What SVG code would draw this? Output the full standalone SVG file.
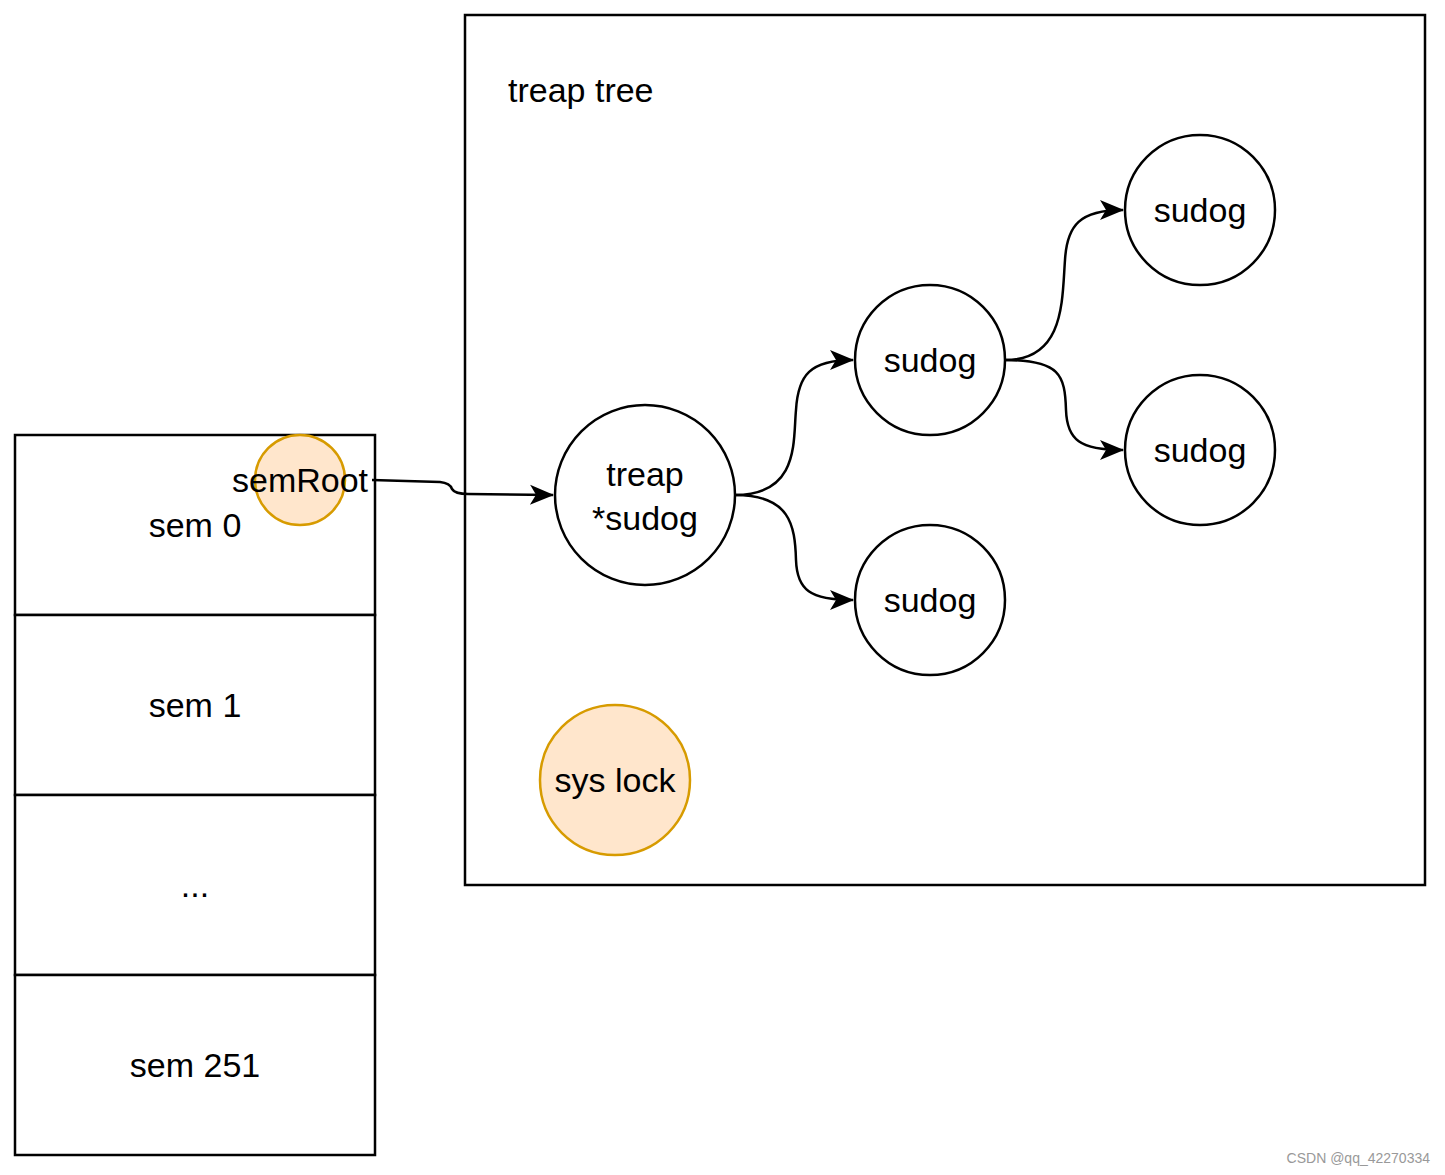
<svg xmlns="http://www.w3.org/2000/svg" width="1445" height="1175" viewBox="0 0 1445 1175">
<style>
text{font-family:"Liberation Sans",Arial,sans-serif;font-size:34px;fill:#000;text-anchor:middle;dominant-baseline:central}
.box{fill:#fff;stroke:#000;stroke-width:2.5}
.node{fill:#fff;stroke:#000;stroke-width:2.5}
.orange{fill:#ffe6cc;stroke:#d79b00;stroke-width:2.5}
.edge{fill:none;stroke:#000;stroke-width:2.5;marker-end:url(#arr)}
</style>
<defs>
<marker id="arr" viewBox="0 0 10 10" refX="9" refY="5" markerWidth="10" markerHeight="10" markerUnits="userSpaceOnUse" orient="auto" overflow="visible">
<path d="M-14,-5 L10,5 L-14,15 L-8,5 Z" fill="#000"/>
</marker>
</defs>
<rect width="1445" height="1175" fill="#fff"/>
<g id="tree-container"><rect class="box" x="465" y="15" width="960" height="870"/><text x="508" y="90" style="text-anchor:start">treap tree</text></g>
<g id="sem0"><rect class="box" x="15" y="435" width="360" height="180"/><text x="195" y="525">sem 0</text></g>
<g id="sem1"><rect class="box" x="15" y="615" width="360" height="180"/><text x="195" y="705">sem 1</text></g>
<g id="semdots"><rect class="box" x="15" y="795" width="360" height="180"/><text x="195" y="885">...</text></g>
<g id="sem251"><rect class="box" x="15" y="975" width="360" height="180"/><text x="195" y="1065">sem 251</text></g>
<g id="semRoot"><circle class="orange" cx="300" cy="480" r="45"/><text x="300" y="480">semRoot</text></g>
<g id="treap"><circle class="node" cx="645" cy="495" r="90"/><text x="645" y="474">treap</text><text x="645" y="518">*sudog</text></g>
<g id="sudog1"><circle class="node" cx="930" cy="360" r="75"/><text x="930" y="360">sudog</text></g>
<g id="sudog2"><circle class="node" cx="930" cy="600" r="75"/><text x="930" y="600">sudog</text></g>
<g id="sudog3"><circle class="node" cx="1200" cy="210" r="75"/><text x="1200" y="210">sudog</text></g>
<g id="sudog4"><circle class="node" cx="1200" cy="450" r="75"/><text x="1200" y="450">sudog</text></g>
<g id="syslock"><circle class="orange" cx="615" cy="780" r="75"/><text x="615" y="780">sys lock</text></g>
<g id="connectors">
<path class="edge" d="M372,480 L440,482 Q450,483 452,489 Q455,494 468,494 L553,495"/>
<path class="edge" d="M735,495 C800,495 793,440 796,410 C798,375 810,360 853,360"/>
<path class="edge" d="M735,495 C790,495 795,525 796,560 C797,590 810,600 853,600"/>
<path class="edge" d="M1005,360 C1065,360 1062,300 1065,260 C1067,225 1080,210 1123,210"/>
<path class="edge" d="M1005,360 C1060,360 1065,375 1066,410 C1067,440 1080,450 1123,450"/>
</g>
<text x="1430" y="1158" style="font-size:14px;fill:#999;text-anchor:end">CSDN @qq_42270334</text>
</svg>
